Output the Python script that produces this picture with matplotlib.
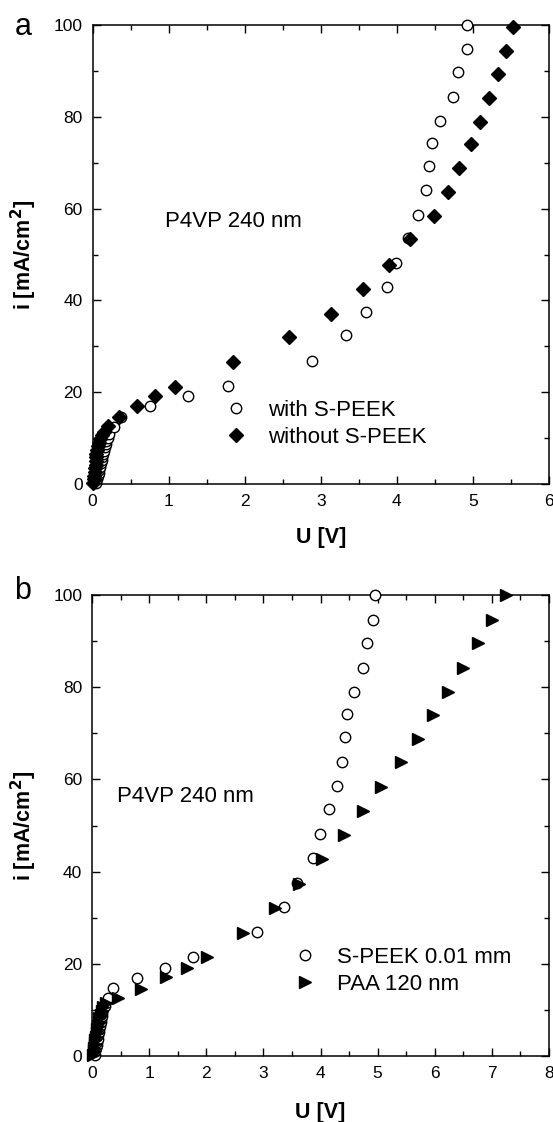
import matplotlib.pyplot as plt
import numpy as np

# panel a: P4VP 240 nm, with / without S-PEEK
u_with = [0.05, 0.06, 0.07, 0.08, 0.09, 0.10, 0.11, 0.12, 0.13, 0.14, 0.15, 0.16, 0.17, 0.18, 0.20, 0.22,
          0.28, 0.37, 0.76, 1.26, 1.78, 2.88, 3.33, 3.59, 3.87, 3.99, 4.15, 4.28, 4.38, 4.42, 4.46,
          4.57, 4.74, 4.80, 4.92, 4.92]
i_with = [0.3, 1.0, 1.7, 2.4, 3.1, 3.8, 4.5, 5.2, 5.9, 6.6, 7.3, 8.0, 8.7, 9.4, 10.1, 10.8,
          12.5, 14.7, 17.0, 19.2, 21.3, 26.9, 32.5, 37.5, 42.9, 48.2, 53.6, 58.7, 64.0, 69.3, 74.4,
          79.1, 84.3, 89.7, 94.8, 100.0]

u_without = [0.01, 0.02, 0.02, 0.03, 0.03, 0.04, 0.04, 0.05, 0.05, 0.06, 0.07, 0.08, 0.10, 0.12, 0.15,
             0.20, 0.35, 0.58, 0.82, 1.08, 1.84, 2.58, 3.13, 3.56, 3.90, 4.17, 4.49, 4.67, 4.82,
             4.98, 5.09, 5.21, 5.33, 5.43, 5.53]
i_without = [0.3, 1.0, 1.8, 2.6, 3.4, 4.2, 5.0, 5.8, 6.6, 7.4, 8.2, 9.0, 9.8, 10.6, 11.4,
             12.7, 14.7, 17.0, 19.2, 21.2, 26.5, 32.1, 37.0, 42.4, 47.8, 53.3, 58.4, 63.6, 68.8,
             74.0, 78.8, 84.1, 89.3, 94.4, 99.5]

# panel b: S-PEEK 0.01 mm vs PAA 120 nm
u_speek = [0.05, 0.06, 0.07, 0.08, 0.09, 0.10, 0.11, 0.12, 0.13, 0.14, 0.15, 0.16, 0.17, 0.18, 0.20, 0.22,
           0.28, 0.37, 0.78, 1.27, 1.77, 2.89, 3.36, 3.59, 3.87, 3.99, 4.15, 4.29, 4.38, 4.43, 4.47,
           4.58, 4.74, 4.81, 4.92, 4.95]
i_speek = [0.3, 1.0, 1.7, 2.4, 3.1, 3.8, 4.5, 5.2, 5.9, 6.6, 7.3, 8.0, 8.7, 9.4, 10.1, 10.8,
           12.5, 14.7, 17.0, 19.2, 21.4, 26.9, 32.4, 37.5, 42.9, 48.2, 53.5, 58.6, 63.8, 69.1, 74.2,
           79.0, 84.1, 89.5, 94.6, 100.0]

u_paa = [0.02, 0.03, 0.04, 0.05, 0.06, 0.07, 0.08, 0.09, 0.10, 0.12, 0.13, 0.15, 0.17, 0.20, 0.25,
         0.45, 0.86, 1.30, 1.66, 2.01, 2.65, 3.21, 3.62, 4.02, 4.41, 4.75, 5.06, 5.41, 5.70,
         5.97, 6.23, 6.50, 6.76, 7.00, 7.25]
i_paa = [0.3, 1.0, 1.8, 2.6, 3.4, 4.2, 5.0, 5.8, 6.6, 7.4, 8.2, 9.0, 9.8, 10.6, 11.4,
         12.5, 14.5, 17.2, 19.2, 21.4, 26.6, 32.2, 37.3, 42.7, 47.9, 53.2, 58.4, 63.7, 68.8,
         74.0, 79.0, 84.1, 89.5, 94.6, 100.0]

plt.rcParams['font.family'] = ['Liberation Sans', 'DejaVu Sans']

fig = plt.figure(figsize=(5.53, 11.22), dpi=100)
ax_a = fig.add_axes([0.1674, 0.5686, 0.8254, 0.4091])
ax_b = fig.add_axes([0.1664, 0.0588, 0.8264, 0.4109])


def style_axis(ax, xmax, label, xlab_y, lab_y):
    ax.set_xlim(0, xmax)
    ax.set_ylim(0, 100)
    ax.set_xticks(np.arange(0, xmax + 1, 1))
    ax.set_xticks(np.arange(0.5, xmax, 1), minor=True)
    ax.set_yticks(np.arange(0, 101, 20))
    ax.set_yticks(np.arange(10, 100, 20), minor=True)
    ax.tick_params(which='both', direction='in', top=True, right=True, labelsize=12.5, pad=7)
    ax.tick_params(which='major', length=6, width=1)
    ax.tick_params(which='minor', length=3.5, width=1)
    for s in ax.spines.values():
        s.set_linewidth(1.1)
    ax.set_xlabel('U [V]', fontsize=15.5, fontweight='bold')
    ax.xaxis.set_label_coords(0.5, xlab_y)
    ax.set_ylabel('i [mA/cm$\\mathbf{^2}$]', fontsize=15.5, fontweight='bold')
    ax.yaxis.set_label_coords(-0.117, 0.5)
    ax.text(-0.152, lab_y, label, transform=ax.transAxes, fontsize=22, va='center', ha='center')


# panel a
ax_a.plot(u_with, i_with, 'o', mfc='white', mec='black', mew=1.0, ms=7.5,
          label='with S-PEEK', clip_on=False, zorder=3)
ax_a.plot(u_without, i_without, 'D', color='black', ms=7.5,
          label='without S-PEEK', clip_on=False, zorder=3)
style_axis(ax_a, 6, 'a', -0.093, 0.995)
ax_a.text(0.95, 57.2, 'P4VP 240 nm', fontsize=16, va='center', ha='left')
ax_a.legend(loc='upper left', bbox_to_anchor=(0.29, 0.183), frameon=False, fontsize=16,
            handlelength=1.0, handletextpad=0.95, labelspacing=0.25, borderpad=0, borderaxespad=0)

# panel b
ax_b.plot(u_speek, i_speek, 'o', mfc='white', mec='black', mew=1.0, ms=7.5,
          label='S-PEEK 0.01 mm', clip_on=False, zorder=3)
ax_b.plot(u_paa, i_paa, '>', color='black', ms=8.5,
          label='PAA 120 nm', clip_on=False, zorder=3)
style_axis(ax_b, 8, 'b', -0.100, 1.009)
ax_b.text(0.43, 56.2, 'P4VP 240 nm', fontsize=16, va='center', ha='left')
ax_b.legend(loc='upper left', bbox_to_anchor=(0.441, 0.236), frameon=False, fontsize=16,
            handlelength=1.0, handletextpad=0.95, labelspacing=0.25, borderpad=0, borderaxespad=0)

fig.savefig('out.png', dpi=100)
